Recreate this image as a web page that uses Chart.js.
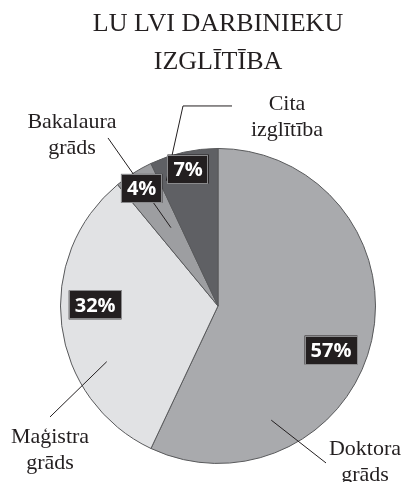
<!DOCTYPE html>
<html>
<head>
<meta charset="utf-8">
<script src="https://cdn.jsdelivr.net/npm/chart.js@4.4.0/dist/chart.umd.min.js"></script>
<style>
  body { margin: 0; background: #fff; }
  #wrap { width: 406px; height: 482px; }
</style>
</head>
<body>
<div id="wrap"><canvas id="myChart" width="406" height="482"></canvas></div>
<script>
const titleLines = ['LU LVI DARBINIEKU', 'IZGLĪTĪBA'];
const categories = [
  ['Doktora', 'grāds'],
  ['Maģistra', 'grāds'],
  ['Bakalaura', 'grāds'],
  ['Cita', 'izglītība'],
];
const shares = [57, 32, 4, 7];
const sliceColors = ['#a9aaad', '#e1e2e4', '#9d9ea1', '#5f6064'];

// where the callouts sit, relative to each slice (degrees off the mid angle, share of radius)
// and text/leader offsets from the pie centre in px
const placement = [
  { boxAng: 8.7, boxR: 0.77, lineAng: 52.4, lineR: 0.80, path: [[108, 157]], text: [147, 149] },
  { boxAng: 7.7, boxR: 0.78, lineAng: -19.4, lineR: 0.79, path: [[-168, 111]], text: [-168, 137] },
  { boxAng: -0.6, boxR: 0.89, lineAng: 1.4, lineR: 0.58, path: [[-110, -168]], text: [-146, -178] },
  { boxAng: 0.3, boxR: 0.89, lineAng: -9.8, lineR: 0.86, path: [[-35, -200], [14, -200]], text: [69, -196] },
];

const deg = Math.PI / 180;

const callouts = {
  id: 'callouts',
  afterDatasetsDraw(chart) {
    const ctx = chart.ctx;
    const arcs = chart.getDatasetMeta(0).data;
    ctx.save();
    // leader lines + outside labels
    arcs.forEach((arc, i) => {
      const { x, y, startAngle, endAngle, outerRadius } =
        arc.getProps(['x', 'y', 'startAngle', 'endAngle', 'outerRadius'], true);
      const mid = (startAngle + endAngle) / 2;
      const p = placement[i];
      const a = mid + p.lineAng * deg;
      ctx.beginPath();
      ctx.moveTo(x + Math.cos(a) * outerRadius * p.lineR, y + Math.sin(a) * outerRadius * p.lineR);
      p.path.forEach(pt => ctx.lineTo(x + pt[0], y + pt[1]));
      ctx.strokeStyle = '#231f20';
      ctx.lineWidth = 1;
      ctx.stroke();

      ctx.fillStyle = '#231f20';
      ctx.font = '22px "Liberation Serif", serif';
      ctx.textAlign = 'center';
      ctx.textBaseline = 'alphabetic';
      categories[i].forEach((line, k) => {
        ctx.fillText(line, x + p.text[0], y + p.text[1] + k * 26);
      });
    });
    // percentage boxes
    arcs.forEach((arc, i) => {
      const { x, y, startAngle, endAngle, outerRadius } =
        arc.getProps(['x', 'y', 'startAngle', 'endAngle', 'outerRadius'], true);
      const mid = (startAngle + endAngle) / 2;
      const p = placement[i];
      const a = mid + p.boxAng * deg;
      const bx = x + Math.cos(a) * outerRadius * p.boxR;
      const by = y + Math.sin(a) * outerRadius * p.boxR;
      const txt = shares[i] + '%';
      ctx.font = 'bold 20px "Open Sans", sans-serif';
      const w = ctx.measureText(txt).width + 12;
      const h = 29;
      ctx.fillStyle = '#231f20';
      ctx.fillRect(bx - w / 2, by - h / 2, w, h);
      ctx.strokeStyle = '#8a8a8c';
      ctx.lineWidth = 1;
      ctx.strokeRect(Math.round(bx - w / 2) + 0.5, Math.round(by - h / 2) + 0.5, Math.round(w) - 1, h - 1);
      ctx.fillStyle = '#ffffff';
      ctx.textAlign = 'center';
      ctx.textBaseline = 'middle';
      ctx.fillText(txt, bx, by + 1);
    });
    ctx.restore();
  }
};

const data = {
  labels: categories.map(c => c.join(' ')),
  datasets: [{
    data: shares,
    backgroundColor: sliceColors,
    borderColor: '#58595b',
    borderWidth: 1,
  }]
};

const config = {
  type: 'pie',
  data: data,
  options: {
    responsive: false,
    animation: false,
    layout: {
      padding: { left: 60, right: 30, top: 0, bottom: 18 }
    },
    plugins: {
      legend: { display: false },
      tooltip: { enabled: false },
      title: {
        display: true,
        text: titleLines,
        color: '#231f20',
        font: { family: '"Liberation Serif", serif', size: 26, weight: 'normal', lineHeight: 1.46 },
        padding: { top: 5, bottom: 67 }
      }
    }
  },
  plugins: [callouts]
};

const myChart = new Chart(document.getElementById('myChart'), config);
</script>
</body>
</html>
